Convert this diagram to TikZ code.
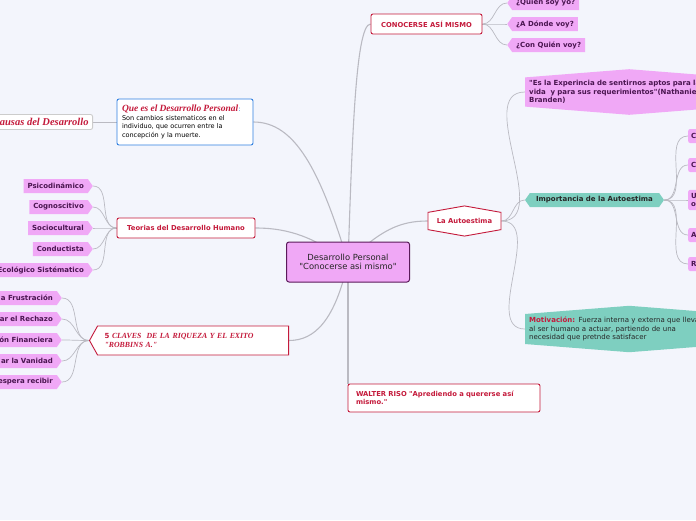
\documentclass[tikz,border=0pt]{standalone}
\usepackage{fontspec}
\setmainfont{DejaVu Sans}[Ligatures=TeXOff]
\newfontfamily\timesfont{Liberation Serif}[Ligatures=TeXOff]
\usetikzlibrary{shapes.symbols, shapes.geometric, positioning, backgrounds}

\definecolor{mpink}{HTML}{F0A8F6}
\definecolor{mpurple}{HTML}{4A1550}
\definecolor{mred}{HTML}{C41A3B}
\definecolor{mteal}{HTML}{7ECFC0}
\definecolor{mblue}{HTML}{2F7FE0}
\definecolor{mline}{HTML}{BABAC2}
\definecolor{mback}{HTML}{F3F5FC}
\definecolor{mdark}{HTML}{5A1A5A}

\tikzset{
topic/.style = {%
    rectangle, rounded corners=2pt, draw=mred, line width=0.9pt,
    fill=white, text=mred, inner sep=0pt, minimum height=20pt,
    font=\fontsize{6.8}{8.5}\selectfont\bfseries},
tag/.style = {%
    signal, signal to=#1, signal pointer angle=110,
    fill=mpink, text=mpurple, inner xsep=4pt, inner ysep=0pt,
    minimum height=14pt, font=\fontsize{7}{8.5}\selectfont\bfseries},
tag/.default = west,
serifbi/.style = {font=\timesfont\bfseries\itshape\fontsize{9}{10}\selectfont}
}

\begin{document}
\begin{tikzpicture}[x=1pt, y=-1pt,
        branch/.style = {draw=mline, line width=1.1pt},
        twig/.style = {draw=mline, line width=0.7pt}
    ]
        \useasboundingbox (0,0) rectangle (696,520);

        % Central topic
        \node[rectangle, rounded corners=2.5pt, draw=mdark, line width=1pt,
              fill=mpink, minimum width=123pt, minimum height=40pt, align=center,
              font=\fontsize{8.4}{9.5}\selectfont, text=black!85]
              at (348,262) (central) {Desarrollo Personal\\"Conocerse asi mismo"};

        % Conocerse asi mismo
        \node[topic, minimum width=111pt] at (426.5,24) (conocerse) {CONOCERSE ASÍ MISMO};
        \node[tag, anchor=west] at (507,3)  (quien)    {¿Quien soy yo?};
        \node[tag, anchor=west] at (507,24) (donde)    {¿A Dónde voy?};
        \node[tag, anchor=west] at (507,45) (conquien) {¿Con Quién voy?};

        % Que es el desarrollo personal
        \node[topic, draw=mblue, text=black, text width=126pt, align=left,
              inner xsep=5pt, minimum height=46pt,
              font=\fontsize{6.5}{8.6}\selectfont]
              at (185,122) (quees)
              {{\timesfont\bfseries\itshape\fontsize{9.5}{10}\selectfont\color{mred}Que es el Desarrollo Personal}{\color{mblue}:}\\
               Son cambios sistematicos en el\\
               individuo, que ocurren entre la\\
               concepción y la muerte.};
        \node[topic, draw=black!20, serifbi, inner xsep=4pt, minimum height=15pt,
              font=\timesfont\bfseries\itshape\fontsize{10.5}{11}\selectfont, anchor=east]
              at (93,122) (causas) {Causas del Desarrollo};

        % Teorias
        \node[topic, minimum width=138pt] at (186,228) (teorias) {Teorias del Desarrollo Humano};
        \node[tag=east, anchor=east] at (93,186) (psico)  {Psicodinámico};
        \node[tag=east, anchor=east] at (93,207) (cogno)  {Cognoscitivo};
        \node[tag=east, anchor=east] at (93,228) (socio)  {Sociocultural};
        \node[tag=east, anchor=east] at (93,249) (conduc) {Conductista};
        \node[tag=east, anchor=east] at (93,270) (ecolog) {Ecológico Sistématico};

        % 5 claves
        \node[topic, signal, signal to=west, signal pointer angle=122, rounded corners=0pt,
              text width=177pt, align=left, inner xsep=7pt, minimum height=29pt,
              font=\fontsize{7.8}{9}\selectfont, anchor=east]
              at (289,340.5) (claves)
              {{\bfseries\fontsize{7}{9}\selectfont 5} {\timesfont\bfseries\itshape CLAVES~~DE LA RIQUEZA Y EL EXITO\\"ROBBINS A."}};
        \foreach \y/\txt [count=\i] in {298/a Frustración, 319/ar el Rechazo,
                340/ón Financiera, 361/ar la Vanidad, 382/espera recibir}
            \node[tag=east, anchor=east, text width=60pt, align=right] at (62,\y) (clave\i) {\txt};

        % La Autoestima
        \node[topic, signal, signal to=north and south, signal pointer angle=160,
              rounded corners=0pt, minimum width=73pt, inner ysep=6pt]
              at (464.5,221) (autoestima) {La Autoestima};
        \node[tag, signal to=north and south, signal pointer angle=171, anchor=west,
              text width=200pt, align=left, inner ysep=3pt,
              font=\fontsize{7}{8.5}\selectfont\bfseries]
              at (525,92) (cita)
              {"Es la Experincia de sentirnos aptos para la\\
               vida~~y para sus requerimientos"(Nathaniel\\
               Branden)};
        \node[tag, signal to=west and east, fill=mteal, text=black!85,
              minimum width=139pt] at (594.5,200) (importancia) {Importancia de la Autoestima};
        \node[tag, signal to=north and south, signal pointer angle=171, anchor=west,
              fill=mteal, text=black!85, text width=200pt, align=left, inner ysep=3pt,
              font=\fontsize{7}{8.5}\selectfont]
              at (525,329) (motivacion)
              {{\bfseries\color{mred}Motivación:} Fuerza interna y externa que lleva\\
               al ser humano a actuar, partiendo de una\\
               necesidad que pretnde satisfacer};
        \foreach \y/\txt [count=\i] in {136/C, 165/C, 200/U\\o, 235/A, 264/R}
            \node[rectangle, rounded corners=2pt, fill=mpink, text=mpurple,
                  font=\fontsize{7}{8.5}\selectfont\bfseries, anchor=west,
                  text width=20pt, align=left, inner xsep=3pt, minimum height=14pt]
                  at (688,\y) (imp\i) {\txt};

        % Walter Riso
        \node[topic, text width=176pt, align=left, inner xsep=8pt, minimum height=28pt]
              at (444,398) (riso) {WALTER RISO "Aprediendo a quererse así\\mismo."};

        % Branches behind the topics
        \begin{scope}[on background layer]
            \fill[mback] (0,0) rectangle (696,520);
            \draw[branch] (central.center) .. controls (352,150) and (355,24) .. (conocerse.west);
            \draw[branch] (central.center) .. controls (320,170) and (295,122) .. (quees.east);
            \draw[branch] (central.center) .. controls (315,238) and (290,228) .. (teorias.east);
            \draw[branch] (central.center) .. controls (335,320) and (315,340.5) .. (claves.east);
            \draw[branch] (central.center) -- (central.center |- riso.north);
            \draw[branch] (central.center) .. controls (380,230) and (400,221) .. (autoestima.west);

            \draw[twig] (quees.west) -- (causas.east);
            \foreach \t in {quien, donde, conquien}
                \draw[twig] (conocerse.east) to[out=0, in=180] (\t.west);
            \foreach \t in {psico, cogno, socio, conduc, ecolog}
                \draw[twig] (teorias.west) to[out=180, in=0] (\t.east);
            \foreach \i in {1,...,5}
                \draw[twig] (claves.west) to[out=180, in=0] (clave\i.east);
            \foreach \t in {cita, importancia, motivacion}
                \draw[twig] (autoestima.east) to[out=0, in=180] (\t.west);
            \foreach \i in {1,...,5}
                \draw[twig] (importancia.east) to[out=0, in=180] (imp\i.west);
        \end{scope}

    \end{tikzpicture}
\end{document}
